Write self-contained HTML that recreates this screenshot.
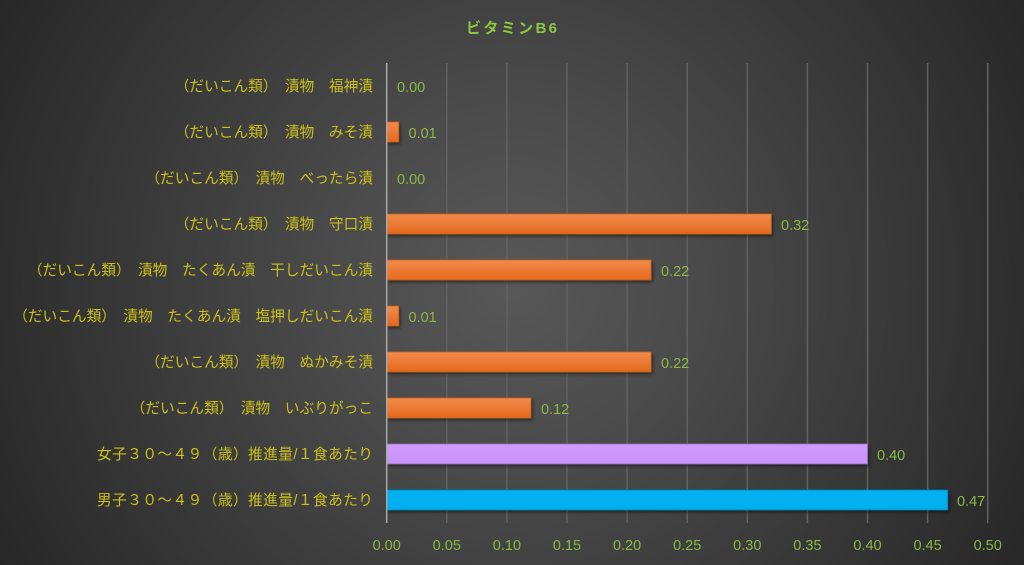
<!DOCTYPE html>
<html>
<head>
<meta charset="utf-8">
<style>
html,body{margin:0;padding:0;}
body{width:1024px;height:565px;overflow:hidden;background:radial-gradient(circle farthest-corner at 50% 50%,#585858 0%,#4b4b4b 30%,#272727 100%);}
svg{display:block;}
.lab{font-family:"Liberation Sans","Noto Sans CJK JP",sans-serif;font-size:14.7px;fill:#cbc01a;}
.val{font-family:"Liberation Sans",sans-serif;font-size:14.5px;fill:#8cb844;}
.tick{font-family:"Liberation Sans",sans-serif;font-size:14.5px;fill:#8cb844;}
</style>
</head>
<body>
<svg width="1024" height="565" viewBox="0 0 1024 565" xmlns="http://www.w3.org/2000/svg">
<defs>
<linearGradient id="og" x1="0" y1="0" x2="0" y2="1">
<stop offset="0" stop-color="#f28b4c"/>
<stop offset="1" stop-color="#e4681d"/>
</linearGradient>
<linearGradient id="pg" x1="0" y1="0" x2="0" y2="1">
<stop offset="0" stop-color="#cf9dfd"/>
<stop offset="1" stop-color="#c792f6"/>
</linearGradient>
<linearGradient id="bg2" x1="0" y1="0" x2="0" y2="1">
<stop offset="0" stop-color="#00b2f2"/>
<stop offset="1" stop-color="#00aeee"/>
</linearGradient>
<filter id="sh" x="-5%" y="-30%" width="110%" height="180%">
<feDropShadow dx="1.5" dy="2" stdDeviation="1.5" flood-color="#000" flood-opacity="0.45"/>
</filter>
</defs>

<!-- title -->
<text x="466" y="33" textLength="91" lengthAdjust="spacing" style="font-family:'Liberation Sans','Noto Sans CJK JP',sans-serif;font-size:15px;font-weight:bold;fill:#8dc63f;">ビタミンB6</text>

<!-- gridlines -->
<g stroke="#616161" stroke-width="1.5">
<line x1="446.8" y1="63" x2="446.8" y2="523"/>
<line x1="506.9" y1="63" x2="506.9" y2="523"/>
<line x1="567" y1="63" x2="567" y2="523"/>
<line x1="627.1" y1="63" x2="627.1" y2="523"/>
<line x1="687.2" y1="63" x2="687.2" y2="523"/>
<line x1="747.3" y1="63" x2="747.3" y2="523"/>
<line x1="807.4" y1="63" x2="807.4" y2="523"/>
<line x1="867.5" y1="63" x2="867.5" y2="523"/>
<line x1="927.6" y1="63" x2="927.6" y2="523"/>
<line x1="987.7" y1="63" x2="987.7" y2="523"/>
</g>

<!-- bars -->
<g filter="url(#sh)">
<rect x="386.7" y="122" width="12" height="20" fill="url(#og)" stroke="#c9601c" stroke-width="0.8"/>
<rect x="386.7" y="214" width="384.6" height="20" fill="url(#og)" stroke="#c9601c" stroke-width="0.8"/>
<rect x="386.7" y="260" width="264.4" height="20" fill="url(#og)" stroke="#c9601c" stroke-width="0.8"/>
<rect x="386.7" y="306" width="12" height="20" fill="url(#og)" stroke="#c9601c" stroke-width="0.8"/>
<rect x="386.7" y="352" width="264.4" height="20" fill="url(#og)" stroke="#c9601c" stroke-width="0.8"/>
<rect x="386.7" y="398" width="144.2" height="20" fill="url(#og)" stroke="#c9601c" stroke-width="0.8"/>
<rect x="386.7" y="444" width="480.8" height="20" fill="url(#pg)" stroke="#9a6cc6" stroke-width="0.8"/>
<rect x="386.7" y="490" width="561" height="20" fill="url(#bg2)" stroke="#0083b5" stroke-width="0.8"/>
</g>

<!-- axis line -->
<line x1="386.7" y1="63" x2="386.7" y2="523" stroke="#a8a8a8" stroke-width="1.5"/>

<!-- category labels -->
<text class="lab" x="373" y="91" text-anchor="end">（だいこん類）　漬物　福神漬</text>
<text class="lab" x="373" y="137" text-anchor="end">（だいこん類）　漬物　みそ漬</text>
<text class="lab" x="373" y="183" text-anchor="end">（だいこん類）　漬物　べったら漬</text>
<text class="lab" x="373" y="229" text-anchor="end">（だいこん類）　漬物　守口漬</text>
<text class="lab" x="373" y="275" text-anchor="end">（だいこん類）　漬物　たくあん漬　干しだいこん漬</text>
<text class="lab" x="373" y="321" text-anchor="end">（だいこん類）　漬物　たくあん漬　塩押しだいこん漬</text>
<text class="lab" x="373" y="367" text-anchor="end">（だいこん類）　漬物　ぬかみそ漬</text>
<text class="lab" x="373" y="413" text-anchor="end">（だいこん類）　漬物　いぶりがっこ</text>
<text class="lab" x="97" y="459" textLength="276" lengthAdjust="spacing">女子３０〜４９（歳）推進量/１食あたり</text>
<text class="lab" x="97" y="505" textLength="276" lengthAdjust="spacing">男子３０〜４９（歳）推進量/１食あたり</text>

<!-- value labels -->
<text class="val" x="397" y="92">0.00</text>
<text class="val" x="408.5" y="138">0.01</text>
<text class="val" x="397" y="184">0.00</text>
<text class="val" x="781" y="230">0.32</text>
<text class="val" x="661" y="276">0.22</text>
<text class="val" x="408.5" y="322">0.01</text>
<text class="val" x="661" y="368">0.22</text>
<text class="val" x="541" y="414">0.12</text>
<text class="val" x="877" y="460">0.40</text>
<text class="val" x="957" y="506">0.47</text>

<!-- tick labels -->
<g class="tick" text-anchor="middle">
<text x="386.7" y="550">0.00</text>
<text x="446.8" y="550">0.05</text>
<text x="506.9" y="550">0.10</text>
<text x="567" y="550">0.15</text>
<text x="627.1" y="550">0.20</text>
<text x="687.2" y="550">0.25</text>
<text x="747.3" y="550">0.30</text>
<text x="807.4" y="550">0.35</text>
<text x="867.5" y="550">0.40</text>
<text x="927.6" y="550">0.45</text>
<text x="987.7" y="550">0.50</text>
</g>
</svg>
</body>
</html>
